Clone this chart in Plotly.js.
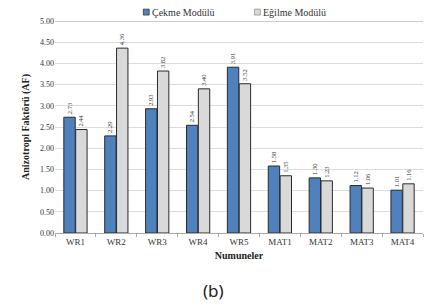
<!DOCTYPE html>
<html><head><meta charset="utf-8">
<script src="https://cdn.plot.ly/plotly-3.0.1.min.js"></script>
<style>html,body{margin:0;padding:0;background:#fff;}#chart{width:424px;height:305px;}</style>
</head><body><div id="chart"></div>
<script>
const categories = ["WR1","WR2","WR3","WR4","WR5","MAT1","MAT2","MAT3","MAT4"];
const cekme = [2.73,2.29,2.93,2.54,3.91,1.58,1.30,1.12,1.01];
const egilme = [2.44,4.36,3.82,3.40,3.52,1.35,1.23,1.06,1.16];
const seriesNames = ["Çekme Modülü","Eğilme Modülü"];
const colors = ["#4f81bd","#d9d9d9"];

const serif = "Liberation Serif, Times New Roman, serif";
const traces = [
  {type:"bar", x:categories, y:cekme, name:seriesNames[0],
   marker:{color:colors[0], line:{color:"#2a2a2a", width:1}},
   text:cekme.map(v=>v.toFixed(2)), textposition:"outside", textangle:-90,
   textfont:{family:serif,size:8,color:"#333"}, cliponaxis:false},
  {type:"bar", x:categories, y:egilme, name:seriesNames[1],
   marker:{color:colors[1], line:{color:"#2a2a2a", width:1}},
   text:egilme.map(v=>v.toFixed(2)), textposition:"outside", textangle:-90,
   textfont:{family:serif,size:8,color:"#333"}, cliponaxis:false}
];
const legX = [0.240, 0.542];
const layout = {
  width:424, height:305,
  margin:{l:55, r:1, t:21, b:72, autoexpand:false},
  paper_bgcolor:"#fff", plot_bgcolor:"#fff",
  barmode:"group", bargap:0.42, bargroupgap:0.04,
  showlegend:false,
  xaxis:{showgrid:false, showline:true, linecolor:"#aaa", linewidth:1,
         ticks:"outside", ticklen:3, tickcolor:"#aaa", tickson:"boundaries",
         tickfont:{family:serif,size:9,color:"#333"},
         title:{text:"<b>Numuneler</b>", font:{family:serif,size:10,color:"#222"}, standoff:6}},
  yaxis:{range:[0,5], dtick:0.5, tickformat:".2f", showgrid:true, gridcolor:"#dcdcdc",
         zeroline:false, showline:false, ticks:"",
         tickfont:{family:serif,size:8,color:"#333"},
         title:{text:"<b>Anizotropi Faktörü (AF)</b>", font:{family:serif,size:10,color:"#222"}, standoff:8}},
  shapes:[
    {type:"line", xref:"paper", yref:"y", x0:0, x1:1, y0:5, y1:5, line:{color:"#999", width:1}},
    ...seriesNames.map((n,i)=>({type:"rect", xref:"paper", yref:"paper", x0:legX[i], x1:legX[i]+0.016,
        y0:1.028, y1:1.056, fillcolor:colors[i], line:{color:i?"#888":"#2a2a2a", width:0.7}}))
  ],
  annotations:[
    ...seriesNames.map((n,i)=>({text:n, xref:"paper", yref:"paper", x:legX[i]+0.019, y:1.042,
        xanchor:"left", yanchor:"middle", showarrow:false, font:{family:serif,size:10,color:"#333"}})),
    {text:"(b)", xref:"paper", yref:"paper", x:0.43, y:-0.27, xanchor:"center", yanchor:"middle",
     showarrow:false, font:{family:"Noto Sans, sans-serif", size:17, color:"#222"}}]
};
Plotly.newPlot("chart", traces, layout, {displayModeBar:false, staticPlot:true});
</script></body></html>
